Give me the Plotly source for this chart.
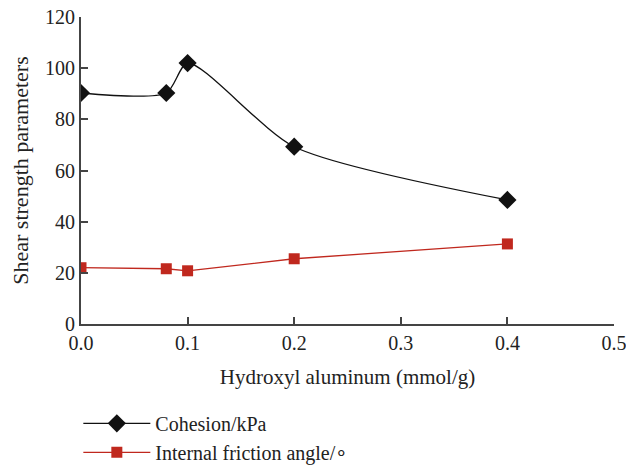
import plotly.graph_objects as go

x_vals = [0.0, 0.08, 0.1, 0.2, 0.4]
cohesion = [90.3, 90.3, 102.0, 69.3, 48.5]
friction = [22.0, 21.6, 20.8, 25.5, 31.3]
cohesion_name = "Cohesion/kPa"
friction_name = "Internal friction angle/∘"

font_family = "Liberation Serif, Times New Roman, serif"
axis_color = "#444444"

fig = go.Figure()
fig.add_trace(go.Scatter(
    x=x_vals, y=cohesion, name=cohesion_name, mode="lines+markers",
    line=dict(color="#111111", width=1.3, shape="spline", smoothing=0.7),
    marker=dict(symbol="diamond", size=14, color="#111111"),
))
fig.add_trace(go.Scatter(
    x=x_vals, y=friction, name=friction_name, mode="lines+markers",
    line=dict(color="#C0281E", width=1.3),
    marker=dict(symbol="square", size=11, color="#C0281E"),
))

fig.update_layout(
    width=626, height=468,
    margin=dict(l=81, r=12, t=17, b=144, autoexpand=False),
    plot_bgcolor="white", paper_bgcolor="white",
    font=dict(family=font_family, size=20, color="#222222"),
    showlegend=True,
    legend=dict(x=-0.005, y=-0.26, xanchor="left", yanchor="top",
                font=dict(size=20, color="#222222"), bgcolor="rgba(0,0,0,0)",
                itemwidth=67, tracegroupgap=8),
    xaxis=dict(
        range=[0, 0.5], tickvals=[0, 0.1, 0.2, 0.3, 0.4, 0.5], tickformat=".1f",
        showline=True, linecolor=axis_color, linewidth=2,
        ticks="inside", ticklen=7, tickwidth=1.5, tickcolor=axis_color,
        showgrid=False, zeroline=False, automargin=False,
        ticklabeloverflow="allow",
        title=dict(text="Hydroxyl aluminum (mmol/g)", standoff=16, font=dict(size=21)),
    ),
    yaxis=dict(
        range=[0, 120], tickvals=[0, 20, 40, 60, 80, 100, 120],
        showline=True, linecolor=axis_color, linewidth=2,
        ticks="inside", ticklen=7, tickwidth=1.5, tickcolor=axis_color,
        showgrid=False, zeroline=False, automargin=False,
        title=dict(text="Shear strength parameters", standoff=10, font=dict(size=22)),
    ),
)

fig.write_html("out.html")
